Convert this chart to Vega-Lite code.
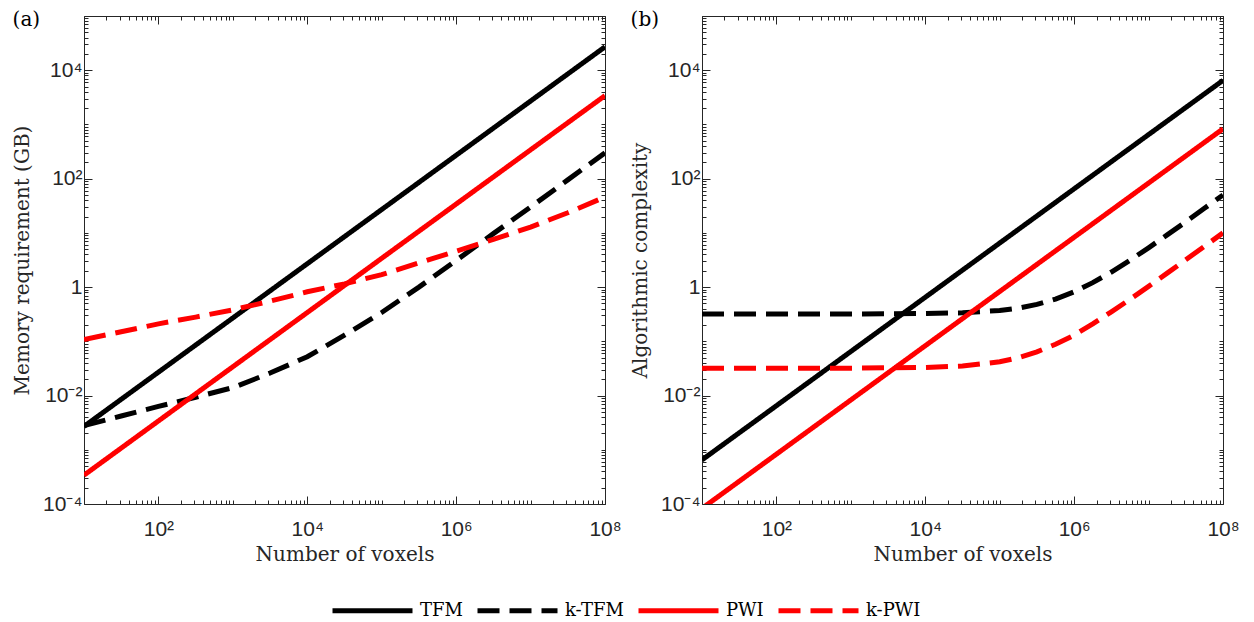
{
  "$schema": "https://vega.github.io/schema/vega-lite/v6.json",
  "background": "white",
  "padding": {"left": 12, "top": 5, "right": 5, "bottom": 2},
  "datasets": {
    "a": [
      {"s": "TFM", "N": 10, "v": 0.0027}, {"s": "TFM", "N": 100, "v": 0.027}, {"s": "TFM", "N": 1000, "v": 0.27}, {"s": "TFM", "N": 10000, "v": 2.7},
      {"s": "TFM", "N": 100000, "v": 27}, {"s": "TFM", "N": 1000000, "v": 270}, {"s": "TFM", "N": 10000000, "v": 2700}, {"s": "TFM", "N": 100000000, "v": 27000},
      {"s": "k-TFM", "N": 10, "v": 0.0028}, {"s": "k-TFM", "N": 31.6, "v": 0.0042}, {"s": "k-TFM", "N": 100, "v": 0.0063}, {"s": "k-TFM", "N": 316, "v": 0.0093},
      {"s": "k-TFM", "N": 1000, "v": 0.014}, {"s": "k-TFM", "N": 3162, "v": 0.026}, {"s": "k-TFM", "N": 10000, "v": 0.052}, {"s": "k-TFM", "N": 31623, "v": 0.13},
      {"s": "k-TFM", "N": 100000, "v": 0.34}, {"s": "k-TFM", "N": 316228, "v": 1.0}, {"s": "k-TFM", "N": 1000000, "v": 3.1}, {"s": "k-TFM", "N": 3162278, "v": 9.7},
      {"s": "k-TFM", "N": 10000000, "v": 30}, {"s": "k-TFM", "N": 31622777, "v": 95}, {"s": "k-TFM", "N": 100000000, "v": 300},
      {"s": "PWI", "N": 10, "v": 0.00034}, {"s": "PWI", "N": 100, "v": 0.0034}, {"s": "PWI", "N": 1000, "v": 0.034}, {"s": "PWI", "N": 10000, "v": 0.34},
      {"s": "PWI", "N": 100000, "v": 3.4}, {"s": "PWI", "N": 1000000, "v": 34}, {"s": "PWI", "N": 10000000, "v": 340}, {"s": "PWI", "N": 100000000, "v": 3400},
      {"s": "k-PWI", "N": 10, "v": 0.108}, {"s": "k-PWI", "N": 31.6, "v": 0.15}, {"s": "k-PWI", "N": 100, "v": 0.21}, {"s": "k-PWI", "N": 316, "v": 0.28},
      {"s": "k-PWI", "N": 1000, "v": 0.38}, {"s": "k-PWI", "N": 3162, "v": 0.55}, {"s": "k-PWI", "N": 10000, "v": 0.82}, {"s": "k-PWI", "N": 31623, "v": 1.15},
      {"s": "k-PWI", "N": 100000, "v": 1.7}, {"s": "k-PWI", "N": 316228, "v": 2.8}, {"s": "k-PWI", "N": 1000000, "v": 4.6}, {"s": "k-PWI", "N": 3162278, "v": 7.6},
      {"s": "k-PWI", "N": 10000000, "v": 12.8}, {"s": "k-PWI", "N": 31622777, "v": 23.5}, {"s": "k-PWI", "N": 100000000, "v": 46}
    ],
    "b": [
      {"s": "TFM", "N": 10, "v": 0.00065}, {"s": "TFM", "N": 100, "v": 0.0065}, {"s": "TFM", "N": 1000, "v": 0.065}, {"s": "TFM", "N": 10000, "v": 0.65},
      {"s": "TFM", "N": 100000, "v": 6.5}, {"s": "TFM", "N": 1000000, "v": 65}, {"s": "TFM", "N": 10000000, "v": 650}, {"s": "TFM", "N": 100000000, "v": 6500},
      {"s": "k-TFM", "N": 10, "v": 0.32}, {"s": "k-TFM", "N": 100, "v": 0.32}, {"s": "k-TFM", "N": 1000, "v": 0.32}, {"s": "k-TFM", "N": 10000, "v": 0.325},
      {"s": "k-TFM", "N": 31623, "v": 0.336}, {"s": "k-TFM", "N": 100000, "v": 0.37}, {"s": "k-TFM", "N": 177828, "v": 0.409}, {"s": "k-TFM", "N": 316228, "v": 0.48},
      {"s": "k-TFM", "N": 562341, "v": 0.601}, {"s": "k-TFM", "N": 1000000, "v": 0.82}, {"s": "k-TFM", "N": 1778279, "v": 1.21}, {"s": "k-TFM", "N": 3162278, "v": 1.9},
      {"s": "k-TFM", "N": 5623413, "v": 3.13}, {"s": "k-TFM", "N": 10000000, "v": 5.3}, {"s": "k-TFM", "N": 17782794, "v": 9.2}, {"s": "k-TFM", "N": 31622777, "v": 16},
      {"s": "k-TFM", "N": 56234133, "v": 28.4}, {"s": "k-TFM", "N": 100000000, "v": 50},
      {"s": "PWI", "N": 10, "v": 0.000083}, {"s": "PWI", "N": 100, "v": 0.00083}, {"s": "PWI", "N": 1000, "v": 0.0083}, {"s": "PWI", "N": 10000, "v": 0.083},
      {"s": "PWI", "N": 100000, "v": 0.83}, {"s": "PWI", "N": 1000000, "v": 8.3}, {"s": "PWI", "N": 10000000, "v": 83}, {"s": "PWI", "N": 100000000, "v": 830},
      {"s": "k-PWI", "N": 10, "v": 0.032}, {"s": "k-PWI", "N": 100, "v": 0.032}, {"s": "k-PWI", "N": 1000, "v": 0.032}, {"s": "k-PWI", "N": 10000, "v": 0.033},
      {"s": "k-PWI", "N": 31623, "v": 0.035}, {"s": "k-PWI", "N": 100000, "v": 0.042}, {"s": "k-PWI", "N": 177828, "v": 0.0498}, {"s": "k-PWI", "N": 316228, "v": 0.064},
      {"s": "k-PWI", "N": 562341, "v": 0.0882}, {"s": "k-PWI", "N": 1000000, "v": 0.13}, {"s": "k-PWI", "N": 1778279, "v": 0.21}, {"s": "k-PWI", "N": 3162278, "v": 0.35},
      {"s": "k-PWI", "N": 5623413, "v": 0.594}, {"s": "k-PWI", "N": 10000000, "v": 1.03}, {"s": "k-PWI", "N": 17782794, "v": 1.81}, {"s": "k-PWI", "N": 31622777, "v": 3.2},
      {"s": "k-PWI", "N": 56234133, "v": 5.65}, {"s": "k-PWI", "N": 100000000, "v": 10}
    ]
  },
  "hconcat": [
    {
      "width": 521,
      "height": 488,
      "title": {"text": "(a)"},
      "data": {"name": "a"},
      "layer": [
        {
          "mark": {"type": "line", "strokeWidth": 5, "clip": true},
          "encoding": {
            "x": {"field": "N", "type": "quantitative", "title": "Number of voxels",
              "scale": {"type": "log", "domain": [10, 100000000]},
              "axis": {"orient": "bottom",
                "values": [10,20,30,40,50,60,70,80,90,100,200,300,400,500,600,700,800,900,1000,2000,3000,4000,5000,6000,7000,8000,9000,10000,20000,30000,40000,50000,60000,70000,80000,90000,100000,200000,300000,400000,500000,600000,700000,800000,900000,1000000,2000000,3000000,4000000,5000000,6000000,7000000,8000000,9000000,10000000,20000000,30000000,40000000,50000000,60000000,70000000,80000000,90000000,100000000],
                "labelExpr": "datum.value == 100 ? '10²' : datum.value == 10000 ? '10⁴' : datum.value == 1000000 ? '10⁶' : datum.value == 100000000 ? '10⁸' : ''",
                "tickSize": {"condition": {"test": "datum.value == 100 || datum.value == 10000 || datum.value == 1000000 || datum.value == 100000000", "value": -8}, "value": -4},
                "labelPadding": 22, "titlePadding": 1}},
            "y": {"field": "v", "type": "quantitative", "title": "Memory requirement (GB)",
              "scale": {"type": "log", "domain": [0.0001, 100000]},
              "axis": {"orient": "left",
                "values": [0.0001,0.0002,0.0003,0.0004,0.0005,0.0006,0.0007,0.0008,0.0009,0.001,0.002,0.003,0.004,0.005,0.006,0.007,0.008,0.009,0.01,0.02,0.03,0.04,0.05,0.06,0.07,0.08,0.09,0.1,0.2,0.3,0.4,0.5,0.6,0.7,0.8,0.9,1,2,3,4,5,6,7,8,9,10,20,30,40,50,60,70,80,90,100,200,300,400,500,600,700,800,900,1000,2000,3000,4000,5000,6000,7000,8000,9000,10000,20000,30000,40000,50000,60000,70000,80000,90000,100000],
                "labelExpr": "datum.value == 0.0001 ? '10⁻⁴' : datum.value == 0.01 ? '10⁻²' : datum.value == 1 ? '1' : datum.value == 100 ? '10²' : datum.value == 10000 ? '10⁴' : ''",
                "tickSize": {"condition": {"test": "datum.value == 0.0001 || datum.value == 0.01 || datum.value == 1 || datum.value == 100 || datum.value == 10000", "value": -8}, "value": -4},
                "labelPadding": 10, "titlePadding": 10}},
            "color": {"field": "s", "type": "nominal",
              "scale": {"domain": ["TFM", "k-TFM", "PWI", "k-PWI"], "range": ["#000000", "#000000", "#ff0000", "#ff0000"]},
              "legend": {"title": null}},
            "strokeDash": {"field": "s", "type": "nominal",
              "scale": {"domain": ["TFM", "k-TFM", "PWI", "k-PWI"], "range": [[1, 0], [22, 10], [1, 0], [22, 10]]},
              "legend": {"title": null}}
          }
        },
        {
          "mark": {"type": "line", "strokeOpacity": 0},
          "encoding": {
            "x": {"field": "N", "type": "quantitative", "title": null,
              "scale": {"type": "log", "domain": [10, 100000000]},
              "axis": {"orient": "top", "labels": false, "minExtent": 0, "maxExtent": 0,
                "values": [10,20,30,40,50,60,70,80,90,100,200,300,400,500,600,700,800,900,1000,2000,3000,4000,5000,6000,7000,8000,9000,10000,20000,30000,40000,50000,60000,70000,80000,90000,100000,200000,300000,400000,500000,600000,700000,800000,900000,1000000,2000000,3000000,4000000,5000000,6000000,7000000,8000000,9000000,10000000,20000000,30000000,40000000,50000000,60000000,70000000,80000000,90000000,100000000],
                "tickSize": {"condition": {"test": "datum.value == 100 || datum.value == 10000 || datum.value == 1000000 || datum.value == 100000000", "value": -8}, "value": -4}}},
            "y": {"field": "v", "type": "quantitative", "title": null,
              "scale": {"type": "log", "domain": [0.0001, 100000]},
              "axis": {"orient": "right", "labels": false, "minExtent": 0, "maxExtent": 0,
                "values": [0.0001,0.0002,0.0003,0.0004,0.0005,0.0006,0.0007,0.0008,0.0009,0.001,0.002,0.003,0.004,0.005,0.006,0.007,0.008,0.009,0.01,0.02,0.03,0.04,0.05,0.06,0.07,0.08,0.09,0.1,0.2,0.3,0.4,0.5,0.6,0.7,0.8,0.9,1,2,3,4,5,6,7,8,9,10,20,30,40,50,60,70,80,90,100,200,300,400,500,600,700,800,900,1000,2000,3000,4000,5000,6000,7000,8000,9000,10000,20000,30000,40000,50000,60000,70000,80000,90000,100000],
                "tickSize": {"condition": {"test": "datum.value == 0.0001 || datum.value == 0.01 || datum.value == 1 || datum.value == 100 || datum.value == 10000", "value": -8}, "value": -4}}},
            "detail": {"field": "s", "type": "nominal"}
          }
        }
      ],
      "resolve": {"axis": {"x": "independent", "y": "independent"}}
    },
    {
      "width": 521,
      "height": 488,
      "title": {"text": "(b)"},
      "data": {"name": "b"},
      "layer": [
        {
          "mark": {"type": "line", "strokeWidth": 5, "clip": true},
          "encoding": {
            "x": {"field": "N", "type": "quantitative", "title": "Number of voxels",
              "scale": {"type": "log", "domain": [10, 100000000]},
              "axis": {"orient": "bottom",
                "values": [10,20,30,40,50,60,70,80,90,100,200,300,400,500,600,700,800,900,1000,2000,3000,4000,5000,6000,7000,8000,9000,10000,20000,30000,40000,50000,60000,70000,80000,90000,100000,200000,300000,400000,500000,600000,700000,800000,900000,1000000,2000000,3000000,4000000,5000000,6000000,7000000,8000000,9000000,10000000,20000000,30000000,40000000,50000000,60000000,70000000,80000000,90000000,100000000],
                "labelExpr": "datum.value == 100 ? '10²' : datum.value == 10000 ? '10⁴' : datum.value == 1000000 ? '10⁶' : datum.value == 100000000 ? '10⁸' : ''",
                "tickSize": {"condition": {"test": "datum.value == 100 || datum.value == 10000 || datum.value == 1000000 || datum.value == 100000000", "value": -8}, "value": -4},
                "labelPadding": 22, "titlePadding": 1}},
            "y": {"field": "v", "type": "quantitative", "title": "Algorithmic complexity",
              "scale": {"type": "log", "domain": [0.0001, 100000]},
              "axis": {"orient": "left",
                "values": [0.0001,0.0002,0.0003,0.0004,0.0005,0.0006,0.0007,0.0008,0.0009,0.001,0.002,0.003,0.004,0.005,0.006,0.007,0.008,0.009,0.01,0.02,0.03,0.04,0.05,0.06,0.07,0.08,0.09,0.1,0.2,0.3,0.4,0.5,0.6,0.7,0.8,0.9,1,2,3,4,5,6,7,8,9,10,20,30,40,50,60,70,80,90,100,200,300,400,500,600,700,800,900,1000,2000,3000,4000,5000,6000,7000,8000,9000,10000,20000,30000,40000,50000,60000,70000,80000,90000,100000],
                "labelExpr": "datum.value == 0.0001 ? '10⁻⁴' : datum.value == 0.01 ? '10⁻²' : datum.value == 1 ? '1' : datum.value == 100 ? '10²' : datum.value == 10000 ? '10⁴' : ''",
                "tickSize": {"condition": {"test": "datum.value == 0.0001 || datum.value == 0.01 || datum.value == 1 || datum.value == 100 || datum.value == 10000", "value": -8}, "value": -4},
                "labelPadding": 10, "titlePadding": 10}},
            "color": {"field": "s", "type": "nominal",
              "scale": {"domain": ["TFM", "k-TFM", "PWI", "k-PWI"], "range": ["#000000", "#000000", "#ff0000", "#ff0000"]},
              "legend": {"title": null}},
            "strokeDash": {"field": "s", "type": "nominal",
              "scale": {"domain": ["TFM", "k-TFM", "PWI", "k-PWI"], "range": [[1, 0], [22, 10], [1, 0], [22, 10]]},
              "legend": {"title": null}}
          }
        },
        {
          "mark": {"type": "line", "strokeOpacity": 0},
          "encoding": {
            "x": {"field": "N", "type": "quantitative", "title": null,
              "scale": {"type": "log", "domain": [10, 100000000]},
              "axis": {"orient": "top", "labels": false, "minExtent": 0, "maxExtent": 0,
                "values": [10,20,30,40,50,60,70,80,90,100,200,300,400,500,600,700,800,900,1000,2000,3000,4000,5000,6000,7000,8000,9000,10000,20000,30000,40000,50000,60000,70000,80000,90000,100000,200000,300000,400000,500000,600000,700000,800000,900000,1000000,2000000,3000000,4000000,5000000,6000000,7000000,8000000,9000000,10000000,20000000,30000000,40000000,50000000,60000000,70000000,80000000,90000000,100000000],
                "tickSize": {"condition": {"test": "datum.value == 100 || datum.value == 10000 || datum.value == 1000000 || datum.value == 100000000", "value": -8}, "value": -4}}},
            "y": {"field": "v", "type": "quantitative", "title": null,
              "scale": {"type": "log", "domain": [0.0001, 100000]},
              "axis": {"orient": "right", "labels": false, "minExtent": 0, "maxExtent": 0,
                "values": [0.0001,0.0002,0.0003,0.0004,0.0005,0.0006,0.0007,0.0008,0.0009,0.001,0.002,0.003,0.004,0.005,0.006,0.007,0.008,0.009,0.01,0.02,0.03,0.04,0.05,0.06,0.07,0.08,0.09,0.1,0.2,0.3,0.4,0.5,0.6,0.7,0.8,0.9,1,2,3,4,5,6,7,8,9,10,20,30,40,50,60,70,80,90,100,200,300,400,500,600,700,800,900,1000,2000,3000,4000,5000,6000,7000,8000,9000,10000,20000,30000,40000,50000,60000,70000,80000,90000,100000],
                "tickSize": {"condition": {"test": "datum.value == 0.0001 || datum.value == 0.01 || datum.value == 1 || datum.value == 100 || datum.value == 10000", "value": -8}, "value": -4}}},
            "detail": {"field": "s", "type": "nominal"}
          }
        }
      ],
      "resolve": {"axis": {"x": "independent", "y": "independent"}}
    }
  ],
  "spacing": 8,
  "config": {
    "view": {"stroke": null},
    "axis": {
      "grid": false, "domainColor": "#262626", "domainWidth": 1, "tickColor": "#262626", "tickWidth": 1,
      "labelColor": "#262626", "titleColor": "#262626",
      "labelFont": "Liberation Sans", "labelFontSize": 21, "labelOverlap": false, "labelFlush": false, "labelBound": false,
      "titleFont": "DejaVu Serif", "titleFontSize": 20, "titleFontWeight": "normal"
    },
    "legend": {
      "orient": "bottom", "direction": "horizontal", "symbolType": "stroke", "symbolSize": 6400,
      "symbolStrokeWidth": 5, "labelFont": "DejaVu Serif", "labelFontSize": 18, "labelColor": "#000000",
      "columnPadding": 4, "labelOffset": 5, "offset": 4,
      "layout": {"bottom": {"anchor": "middle"}}
    },
    "title": {"font": "DejaVu Serif", "fontSize": 20, "fontWeight": "normal", "color": "#000000", "anchor": "start", "frame": "bounds", "baseline": "middle", "offset": -25}
  }
}
